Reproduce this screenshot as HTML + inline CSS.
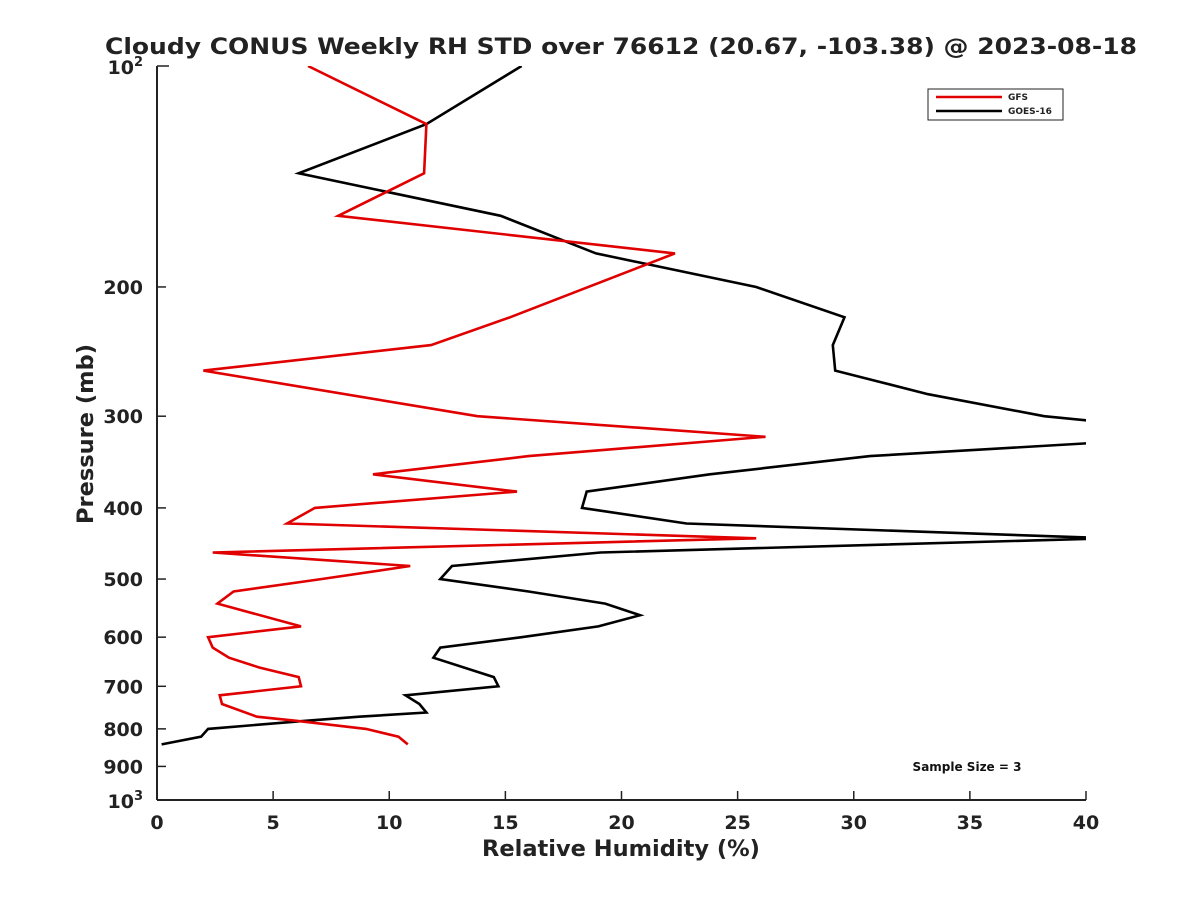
<!DOCTYPE html>
<html><head><meta charset="utf-8">
<style>
body{margin:0;background:#fff;}
svg{display:block;font-family:"DejaVu Sans","Liberation Sans",sans-serif;}
</style></head>
<body>
<svg id="chart" width="1200" height="900" viewBox="0 0 1200 900" xmlns="http://www.w3.org/2000/svg">
<rect width="1200" height="900" fill="#fff"/>
<text x="621" y="54" text-anchor="middle" font-size="22" font-weight="bold" fill="#222" textLength="1032" lengthAdjust="spacingAndGlyphs">Cloudy CONUS Weekly RH STD over 76612 (20.67, -103.38) @ 2023-08-18</text>
<defs><clipPath id="plotclip"><rect x="157" y="66" width="929" height="734"/></clipPath></defs>
<g id="axes"></g>
<g id="series" clip-path="url(#plotclip)"></g>
<text x="621" y="856" text-anchor="middle" font-size="22.5" font-weight="bold" fill="#222">Relative Humidity (%)</text>
<text transform="translate(93,434) rotate(-90)" text-anchor="middle" font-size="22.5" font-weight="bold" fill="#222">Pressure (mb)</text>
<g>
<rect x="928" y="89" width="135" height="31" fill="#fff" stroke="#222" stroke-width="1"/>
<line x1="936" y1="97" x2="1002" y2="97" stroke="#e00000" stroke-width="2.5"/>
<text x="1008" y="100" font-size="9" font-weight="bold" fill="#222">GFS</text>
<line x1="936" y1="111" x2="1002" y2="111" stroke="#000" stroke-width="2.5"/>
<text x="1008" y="114" font-size="9" font-weight="bold" fill="#222">GOES-16</text>
</g>
<text x="967" y="771" text-anchor="middle" font-size="12" font-weight="bold" fill="#111">Sample Size = 3</text>
</svg>
<script>
const xTicks=[0,5,10,15,20,25,30,35,40];
const yTicks=[200,300,400,500,600,700,800,900];
const gfsP=[100,120,140,160,180,220,240,260,300,320,340,360,380,400,420,440,460,480,500,520,540,580,600,620,640,660,680,700,720,740,770,780,800,820,840];
const gfsRH=[6.5,11.6,11.5,7.8,22.3,15.2,11.8,2.0,13.8,26.2,16.0,9.3,15.5,6.8,5.6,25.8,2.4,10.9,7.1,3.3,2.6,6.2,2.2,2.4,3.1,4.4,6.1,6.2,2.7,2.8,4.3,6.0,9.0,10.4,10.8];
const goesP=[100,120,140,160,180,200,220,240,260,280,300,305,326,340,360,380,400,420,440,460,480,500,520,540,560,580,600,620,640,680,700,720,740,760,770,780,800,820,840];
const goesRH=[15.7,11.6,6.1,14.8,18.9,25.8,29.6,29.1,29.2,33.2,38.2,40.5,40.5,30.7,23.8,18.5,18.3,22.8,41,19.1,12.7,12.2,16.0,19.3,20.8,19.0,15.7,12.2,11.9,14.5,14.7,10.7,11.3,11.6,8.7,6.4,2.2,1.9,0.2];
const X0=157,X1=1086,Y0=66,Y1=800;
const sx=v=>X0+(v-0)/40*(X1-X0);
const sy=p=>Y0+Math.log10(p/100)*(Y1-Y0);
const NS="http://www.w3.org/2000/svg";
function mk(tag,attrs,parent){const e=document.createElementNS(NS,tag);for(const k in attrs)e.setAttribute(k,attrs[k]);parent.appendChild(e);return e;}
const axes=document.getElementById('axes');
const xl=mk('line',{x1:X0,y1:Y1,x2:X1,y2:Y1,stroke:'#222','stroke-width':2},axes);


const yl=mk('line',{x1:X0,y1:Y0,x2:X0,y2:Y1,stroke:'#222','stroke-width':2},axes);


xTicks.forEach(v=>{
  const x=sx(v);
  mk('line',{x1:x,y1:Y1,x2:x,y2:Y1-9,stroke:'#222','stroke-width':1.5},axes);
  const t=mk('text',{x:x,y:Y1+29,'text-anchor':'middle','font-size':19,'font-weight':'bold',fill:'#222'},axes);
  t.textContent=v;
  
  
});
yTicks.forEach(p=>{
  const y=sy(p);
  mk('line',{x1:X0,y1:y,x2:X0+9,y2:y,stroke:'#222','stroke-width':1.5},axes);
  const t=mk('text',{x:X0-14,y:y+7,'text-anchor':'end','font-size':19,'font-weight':'bold',fill:'#222'},axes);
  t.textContent=p;
  
  
});
[[100,'2'],[1000,'3']].forEach(([p,e])=>{
  const y=sy(p);
  mk('line',{x1:X0,y1:y,x2:X0+12,y2:y,stroke:'#222','stroke-width':1.5},axes);
  const t=mk('text',{x:X0-14,y:y+8,'text-anchor':'end','font-size':19,'font-weight':'bold',fill:'#222'},axes);
  t.innerHTML='10<tspan font-size="13" dy="-8">'+e+'</tspan>';
  
  
});
const g=document.getElementById('series');
function line(P,V,color,name){
  const d=P.map((p,i)=>(i?'L':'M')+sx(V[i]).toFixed(1)+','+sy(p).toFixed(1)).join('');
  const e=mk('path',{d:d,fill:'none',stroke:color,'stroke-width':2.6,'stroke-linejoin':'miter'},g);
  
  
}
line(goesP,goesRH,'#000','goes16-line');
line(gfsP,gfsRH,'#e00000','gfs-line');
</script>
</body></html>
